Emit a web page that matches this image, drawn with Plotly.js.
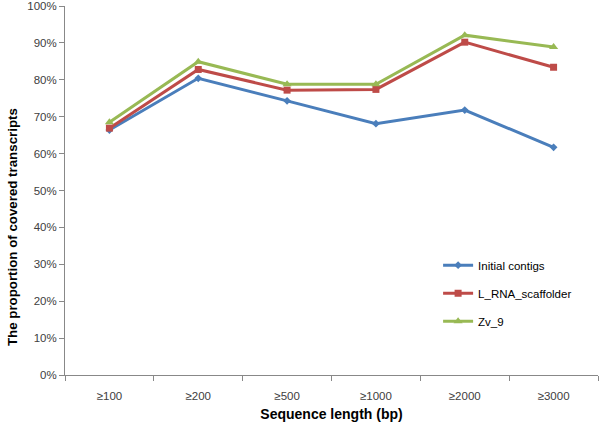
<!DOCTYPE html>
<html>
<head>
<meta charset="utf-8">
<script src="https://cdn.plot.ly/plotly-3.0.1.min.js"></script>
<style>html,body{margin:0;padding:0;background:#fff}#chart{width:600px;height:426px}</style>
</head>
<body>
<div id="chart"></div>
<script>
var categories = ["≥100", "≥200", "≥500", "≥1000", "≥2000", "≥3000"];
var initialContigs = [0.664, 0.804, 0.743, 0.681, 0.718, 0.617];
var lRnaScaffolder = [0.669, 0.828, 0.772, 0.774, 0.902, 0.834];
var zv9 = [0.685, 0.849, 0.788, 0.788, 0.921, 0.889];
var seriesNames = ["Initial contigs", "L_RNA_scaffolder", "Zv_9"];
var yTickVals = [0, 0.1, 0.2, 0.3, 0.4, 0.5, 0.6, 0.7, 0.8, 0.9, 1.0];
var yTickText = ["0%", "10%", "20%", "30%", "40%", "50%", "60%", "70%", "80%", "90%", "100%"];
var yTitle = "The proportion of covered transcripts";
var xTitle = "Sequence length (bp)";

var traces = [
  {x: categories, y: initialContigs, name: seriesNames[0], legendgroup: "a", type: "scatter", mode: "lines+markers",
   line: {color: "#4A7EBB", width: 3}, marker: {symbol: "diamond", size: 6, color: "#4A7EBB"}},
  {x: categories, y: lRnaScaffolder, name: seriesNames[1], legendgroup: "b", type: "scatter", mode: "lines+markers",
   line: {color: "#BE4B48", width: 3}, marker: {symbol: "square", size: 7, color: "#BE4B48"}},
  {x: categories, y: zv9, name: seriesNames[2], legendgroup: "c", type: "scatter", mode: "lines+markers",
   line: {color: "#98B954", width: 3}, marker: {symbol: "triangle-up", size: 8, color: "#98B954"}}
];

var layout = {
  width: 600, height: 426,
  margin: {l: 65, r: 2, t: 6, b: 51},
  paper_bgcolor: "#fff", plot_bgcolor: "#fff",
  font: {family: "Liberation Sans, Arial, sans-serif", size: 11, color: "#404040"},
  showlegend: true,
  legend: {x: 0.70, y: 0.337, xanchor: "left", yanchor: "top", bgcolor: "rgba(0,0,0,0)",
           font: {size: 11.5, color: "#000"}, traceorder: "grouped", tracegroupgap: 9, itemwidth: 30},
  xaxis: {
    type: "category", range: [-0.5, 5.5], tickson: "boundaries",
    showline: true, linecolor: "#888", linewidth: 1,
    ticks: "outside", ticklen: 5, tickcolor: "#888",
    showgrid: false, zeroline: false,
    ticklabelstandoff: 10,
    tickfont: {size: 11.5, color: "#404040"},
    title: {text: xTitle, font: {size: 14, color: "#000", family: "Liberation Sans, Arial, sans-serif", weight: "bold"}, standoff: 8}
  },
  yaxis: {
    range: [0, 1], tickmode: "array", tickvals: yTickVals, ticktext: yTickText,
    showline: true, linecolor: "#888", linewidth: 1,
    ticks: "outside", ticklen: 5, tickcolor: "#888",
    showgrid: false, zeroline: false,
    tickfont: {size: 11.5, color: "#404040"}
  },
  annotations: [{
    text: yTitle, textangle: -90, showarrow: false,
    xref: "paper", yref: "paper", x: -0.0994, y: 0.401, xanchor: "center", yanchor: "middle",
    font: {size: 13.3, color: "#000", family: "Liberation Sans, Arial, sans-serif", weight: "bold"}
  }]
};

Plotly.newPlot("chart", traces, layout, {displayModeBar: false, staticPlot: true});
</script>
</body>
</html>
